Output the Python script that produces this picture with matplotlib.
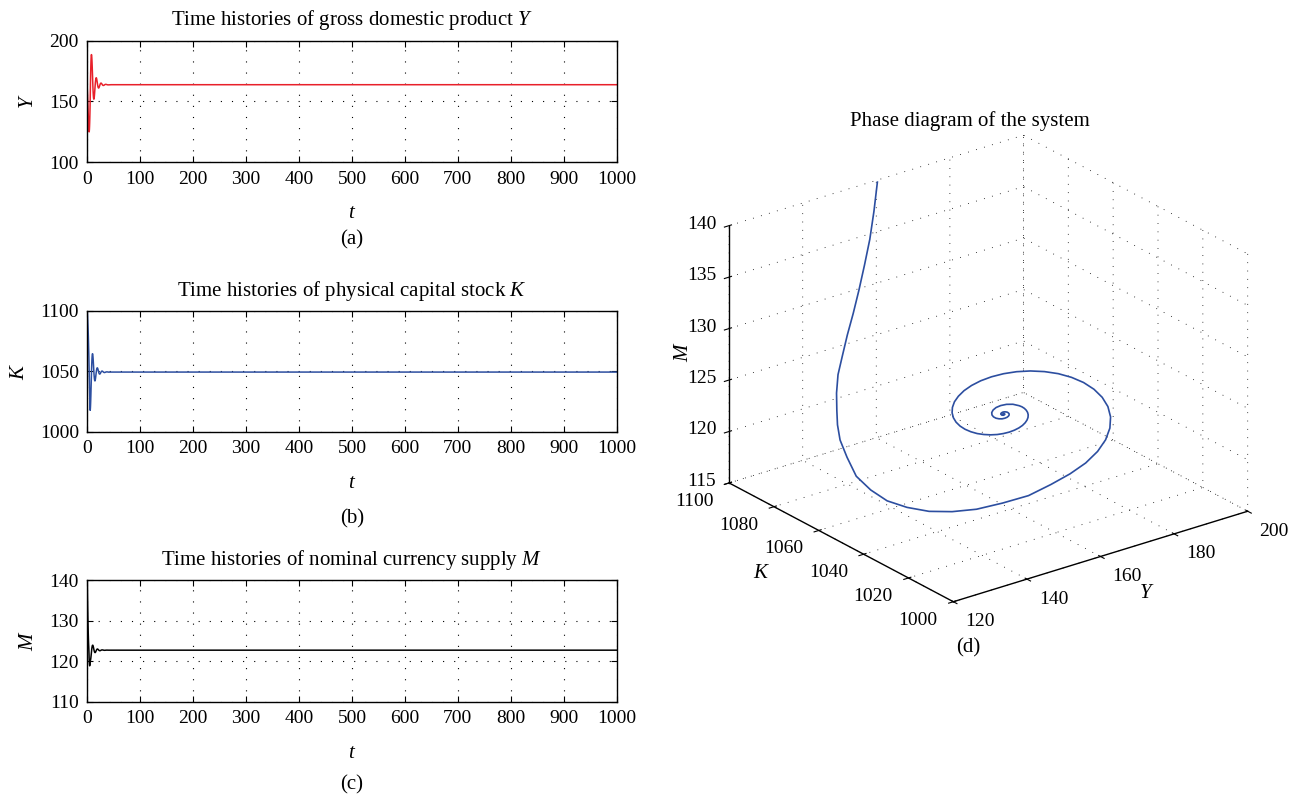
import matplotlib
matplotlib.use('Agg')
import matplotlib.pyplot as plt

plt.rcParams['font.family'] = 'serif'
plt.rcParams['font.serif'] = ['Liberation Serif', 'DejaVu Serif']
plt.rcParams['mathtext.fontset'] = 'custom'
plt.rcParams['mathtext.rm'] = 'Liberation Serif'
plt.rcParams['mathtext.it'] = 'Liberation Serif:italic'

# time samples: dense while the system oscillates, sparse once it has settled
t = [0, 0.25, 0.5, 0.75, 1, 1.25, 1.5, 1.75, 2, 2.25, 2.5, 2.75, 3, 3.25, 3.5, 3.75,
     4, 4.25, 4.5, 4.75, 5, 5.25, 5.5, 5.75, 6, 6.25, 6.5, 6.75, 7, 7.25, 7.5, 7.75,
     8, 8.25, 8.5, 8.75, 9, 9.25, 9.5, 9.75, 10, 10.25, 10.5, 10.75, 11, 11.25, 11.5,
     11.75, 12, 12.25, 12.5, 12.75, 13, 13.25, 13.5, 13.75, 14, 14.25, 14.5, 14.75,
     15, 15.25, 15.5, 15.75, 16, 16.25, 16.5, 16.75, 17, 17.25, 17.5, 18, 18.5, 19,
     19.5, 20, 20.5, 21, 21.5, 22, 22.5, 23, 23.5, 24, 24.5, 25, 25.5, 26, 26.5, 27,
     27.5, 28, 28.5, 29, 29.5, 30, 31, 32, 33, 34, 35, 36, 38, 40, 45, 1000]

# gross domestic product Y
Y = [160.3, 158.2, 155.8, 152.9, 149.8, 146.6, 143.3, 140.0, 136.8, 133.9, 131.3, 129.1,
     127.3, 125.9, 125.0, 125.7, 127.0, 129.3, 132.3, 136.0, 140.3, 145.6, 151.34, 157.95,
     164.22, 169.99, 175.12, 179.49, 183.04, 185.72, 187.52, 188.44, 188.54, 187.87, 186.5,
     184.56, 182.11, 179.3, 176.23, 173.03, 169.78, 166.61, 163.6, 160.83, 158.37, 156.26,
     154.56, 153.27, 152.41, 151.96, 151.92, 152.24, 152.9, 153.84, 155.01, 156.36, 157.83,
     159.37, 160.93, 162.45, 163.9, 165.23, 166.41, 167.42, 168.23, 168.85, 169.27, 169.48,
     169.5, 169.35, 169.03, 168.02, 166.66, 165.18, 163.75, 162.55, 161.67, 161.18, 161.06,
     161.29, 161.77, 162.42, 163.14, 163.82, 164.4, 164.82, 165.06, 165.11, 165.01, 164.77,
     164.46, 164.12, 163.79, 163.51, 163.31, 163.2, 163.22, 163.48, 163.81, 164.04, 164.1,
     164.02, 163.73, 163.67, 163.8, 163.8]

# physical capital stock K
K = [1100, 1098.1, 1096, 1093.6, 1091, 1088.3, 1085.5, 1082.3, 1079, 1074.9, 1070.5,
     1066.6, 1062.5, 1057.1, 1051.5, 1046.2, 1041, 1035.9, 1031, 1026.8, 1023, 1020.1,
     1017.9, 1018.78, 1020.51, 1023.01, 1026.12, 1029.71, 1033.63, 1037.72, 1041.87,
     1045.92, 1049.76, 1053.3, 1056.44, 1059.12, 1061.29, 1062.94, 1064.04, 1064.61,
     1064.67, 1064.26, 1063.42, 1062.22, 1060.72, 1059.01, 1057.12, 1055.15, 1053.17,
     1051.22, 1049.38, 1047.68, 1046.17, 1044.88, 1043.84, 1043.05, 1042.52, 1042.24,
     1042.22, 1042.41, 1042.82, 1043.39, 1044.11, 1044.94, 1045.84, 1046.78, 1047.74,
     1048.67, 1049.56, 1050.37, 1051.1, 1052.22, 1052.85, 1052.99, 1052.71, 1052.09,
     1051.26, 1050.34, 1049.47, 1048.73, 1048.2, 1047.89, 1047.82, 1047.96, 1048.26,
     1048.66, 1049.09, 1049.51, 1049.87, 1050.13, 1050.27, 1050.3, 1050.24, 1050.1,
     1049.9, 1049.69, 1049.32, 1049.13, 1049.15, 1049.31, 1049.5, 1049.64, 1049.64,
     1049.46, 1049.5, 1049.5]

# nominal currency supply M
M = [139.8, 137.4, 135.2, 133.3, 131.5, 129.9, 128.5, 127.2, 126.1, 125.1, 124.2, 123.5,
     122.7, 121.8, 120.7, 119.9, 119.3, 119.0, 118.85, 118.9, 119.1, 119.45, 119.8,
     120.05, 120.2, 120.33, 120.53, 120.77, 121.06, 121.38, 121.71, 122.04, 122.37, 122.69,
     122.98, 123.24, 123.46, 123.64, 123.78, 123.87, 123.92, 123.93, 123.9, 123.84, 123.74,
     123.63, 123.49, 123.34, 123.18, 123.02, 122.86, 122.71, 122.57, 122.44, 122.34, 122.25,
     122.18, 122.14, 122.11, 122.11, 122.12, 122.15, 122.2, 122.26, 122.32, 122.4, 122.47,
     122.55, 122.63, 122.7, 122.76, 122.88, 122.95, 122.98, 122.98, 122.94, 122.88, 122.81,
     122.74, 122.67, 122.62, 122.58, 122.57, 122.57, 122.59, 122.61, 122.65, 122.68, 122.72,
     122.74, 122.76, 122.77, 122.76, 122.75, 122.74, 122.73, 122.69, 122.67, 122.67, 122.68,
     122.7, 122.71, 122.71, 122.7, 122.7, 122.7]

red = '#e8202a'
blue = '#2c4ea0'
dots = (0, (1, 9))
fs = 14
tfs = 15

fig = plt.figure(figsize=(12.93, 8.01), dpi=100)


def time_panel(rect, data, color, ylim, yticks, title, ylab, cap, capy):
    ax = fig.add_axes(rect)
    ax.plot(t, data, color=color, lw=1.1)
    ax.set_xlim(0, 1000)
    ax.set_ylim(*ylim)
    ax.set_xticks(range(0, 1001, 100))
    ax.set_yticks(yticks)
    ax.tick_params(direction='in', top=True, right=True, length=4, width=0.8,
                   labelsize=fs, pad=6)
    ax.grid(True, color='k', lw=0.8, linestyle=dots)
    for s in ax.spines.values():
        s.set_linewidth(1.0)
    ax.set_title(title, fontsize=tfs, pad=11)
    ax.set_xlabel('$t$', fontsize=tfs, labelpad=12)
    ax.set_ylabel(ylab, fontsize=tfs, labelpad=8)
    fig.text(352 / 1293, 1 - capy / 801, cap, ha='center', va='center', fontsize=tfs)
    return ax


time_panel([0.0675, 0.7974, 0.4094, 0.1518], Y, red, (100, 200), [100, 150, 200],
           'Time histories of gross domestic product $Y$', '$Y$', '(a)', 240)
time_panel([0.0675, 0.4607, 0.4094, 0.1511], K, blue, (1000, 1100), [1000, 1050, 1100],
           'Time histories of physical capital stock $K$', '$K$', '(b)', 519)
time_panel([0.0675, 0.1240, 0.4094, 0.1519], M, 'k', (110, 140), [110, 120, 130, 140],
           'Time histories of nominal currency supply $M$', '$M$', '(c)', 785)

# phase diagram
ax3 = fig.add_axes([0.5184, 0.1703, 0.48, 0.72], projection='3d')
ax3.set_proj_type('ortho')
ax3.view_init(elev=23.8, azim=-127.3)
ax3.set_box_aspect((1, 1, 0.76))
ax3.plot(Y, K, M, color=blue, lw=1.2)
ax3.set_xlim(120, 200)
ax3.set_ylim(1000, 1100)
ax3.set_zlim(115, 140)
ax3.set_xticks([120, 140, 160, 180, 200])
ax3.set_yticks([1000, 1020, 1040, 1060, 1080, 1100])
ax3.set_zticks([115, 120, 125, 130, 135, 140])
for axis in (ax3.xaxis, ax3.yaxis, ax3.zaxis):
    axis.set_pane_color((1, 1, 1, 0))
    axis.pane.set_edgecolor((1, 1, 1, 0))
    axis._axinfo['grid']['color'] = 'k'
    axis._axinfo['grid']['linewidth'] = 0.6
    axis._axinfo['grid']['linestyle'] = dots
    axis.line.set_linewidth(1.0)
    axis.set_tick_params(labelsize=fs)
for tk in ax3.xaxis.get_major_ticks():
    tk.label1.set_horizontalalignment('left')
    tk.label1.set_verticalalignment('center')
for tk in ax3.yaxis.get_major_ticks():
    tk.label1.set_horizontalalignment('right')
    tk.label1.set_verticalalignment('center')
for tk in ax3.zaxis.get_major_ticks():
    tk.label1.set_verticalalignment('center')
fig.text(970 / 1293, 1 - 121 / 801, 'Phase diagram of the system', ha='center',
         va='center', fontsize=tfs)
fig.text(1147 / 1293, 1 - 594 / 801, '$Y$', ha='center', va='center', fontsize=tfs)
fig.text(762 / 1293, 1 - 573 / 801, '$K$', ha='center', va='center', fontsize=tfs)
fig.text(684 / 1293, 1 - 352 / 801, '$M$', ha='center', va='center', fontsize=tfs,
         rotation=90)
fig.text(968 / 1293, 1 - 648 / 801, '(d)', ha='center', va='center', fontsize=tfs)

fig.savefig('out.png', dpi=100)
